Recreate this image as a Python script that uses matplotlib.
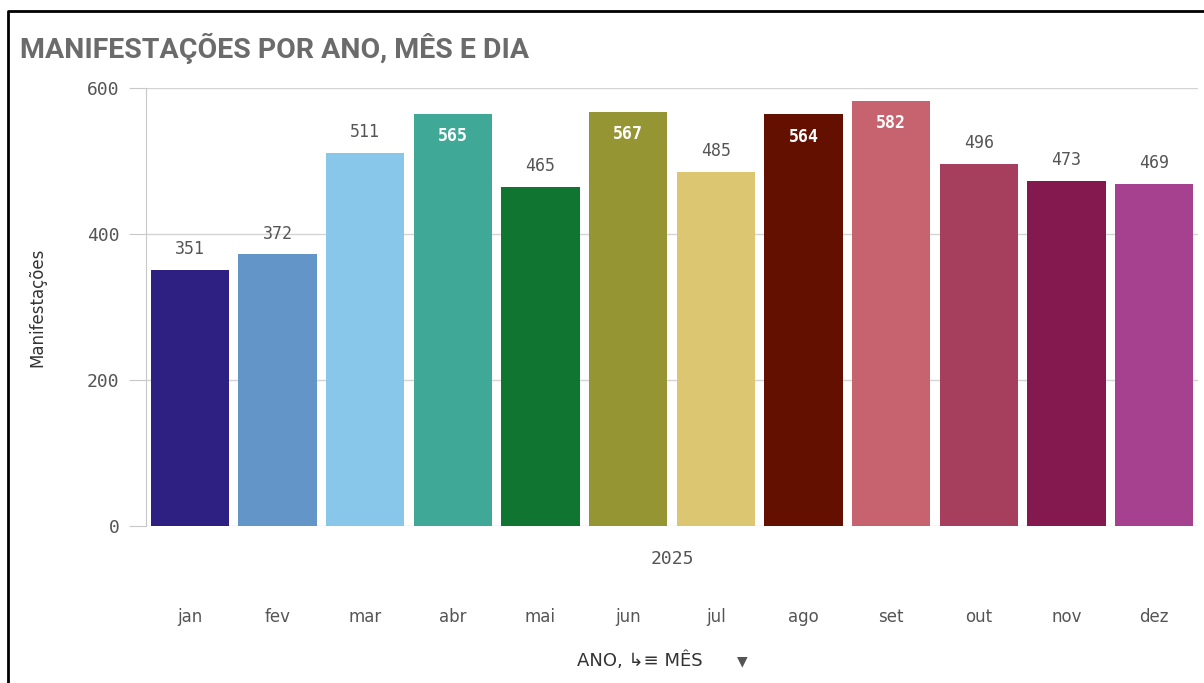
import matplotlib.pyplot as plt
from matplotlib.lines import Line2D

# === DATA ===
months = ["jan", "fev", "mar", "abr", "mai", "jun", "jul", "ago", "set", "out", "nov", "dez"]
values = [351, 372, 511, 565, 465, 567, 485, 564, 582, 496, 473, 469]
bar_colors = ["#2e1f82", "#6395c9", "#88c6ea", "#3fa896", "#117532", "#969534",
              "#dcc672", "#641001", "#c6636f", "#a63e5e", "#83194f", "#a6418f"]
inside_label = [False, False, False, True, False, True, False, True, True, False, False, False]
year_label = "2025"
yticks = [0, 200, 400, 600]

W, H = 1204, 683
fig = plt.figure(figsize=(W / 100, H / 100), dpi=100)

# axes placed in pixel terms of the reference
left, right, top, bottom = 146, 1198, 88, 526
ax = fig.add_axes([left / W, 1 - bottom / H, (right - left) / W, (bottom - top) / H])

x = list(range(len(months)))
bars = ax.bar(x, values, width=0.89, color=bar_colors, zorder=3)

ax.set_xlim(-0.5, len(months) - 0.5)
ax.set_ylim(0, 600)
ax.set_yticks(yticks)
ax.set_yticklabels([str(t) for t in yticks], family="DejaVu Sans Mono", fontsize=13, color="#555555")
ax.tick_params(axis="y", length=12, color="#c8c8c8", pad=7)
ax.set_xticks([])

ax.grid(axis="y", color="#d4d4d4", linewidth=1, zorder=0)
for s in ["top", "right", "bottom"]:
    ax.spines[s].set_visible(False)
ax.spines["left"].set_color("#c8c8c8")

# value labels
for xi, v, inside in zip(x, values, inside_label):
    if inside:
        ax.annotate(str(v), (xi, v), xytext=(0, -16), textcoords="offset points",
                    ha="center", va="center", family="DejaVu Sans Mono", fontsize=12,
                    color="white", fontweight="bold", zorder=4)
    else:
        ax.annotate(str(v), (xi, v), xytext=(0, 15), textcoords="offset points",
                    ha="center", va="center", family="DejaVu Sans Mono", fontsize=12,
                    color="#555555", zorder=4)

# x axis labels: year, months, dimension caption
ax.text(0.5, -0.075, year_label, transform=ax.transAxes, ha="center", va="center",
        family="DejaVu Sans Mono", fontsize=13, color="#555555")
for xi, m in zip(x, months):
    ax.annotate(m, (xi, 0), xytext=(0, -91 * 0.72), textcoords="offset points",
                ha="center", va="center", fontsize=12, color="#555555", family="DejaVu Sans")
fig.text(577 / W, 1 - 661 / H, "ANO, \u21b3\u2261 MÊS", ha="left", va="center",
         fontsize=13, color="#333333", family="DejaVu Sans")
fig.text(742 / W, 1 - 661 / H, "\u25bc", ha="center", va="center",
         fontsize=10, color="#555555", family="DejaVu Sans")

ax.set_ylabel("Manifestações", fontsize=12, color="#333333", family="DejaVu Sans")
ax.yaxis.set_label_coords((46 - left) / (right - left), 0.5)

# title
fig.text(20 / W, 1 - 48 / H, "MANIFESTAÇÕES POR ANO, MÊS E DIA", ha="left", va="center",
         fontsize=20.5, fontweight="bold", color="#6b6b6b", family="Roboto")

# panel frame
fig.add_artist(Line2D([8 / W, 8 / W, 1.0], [0.0, 1 - 11 / H, 1 - 11 / H],
                      transform=fig.transFigure, color="black", linewidth=2))

fig.savefig("out.png", dpi=100)
